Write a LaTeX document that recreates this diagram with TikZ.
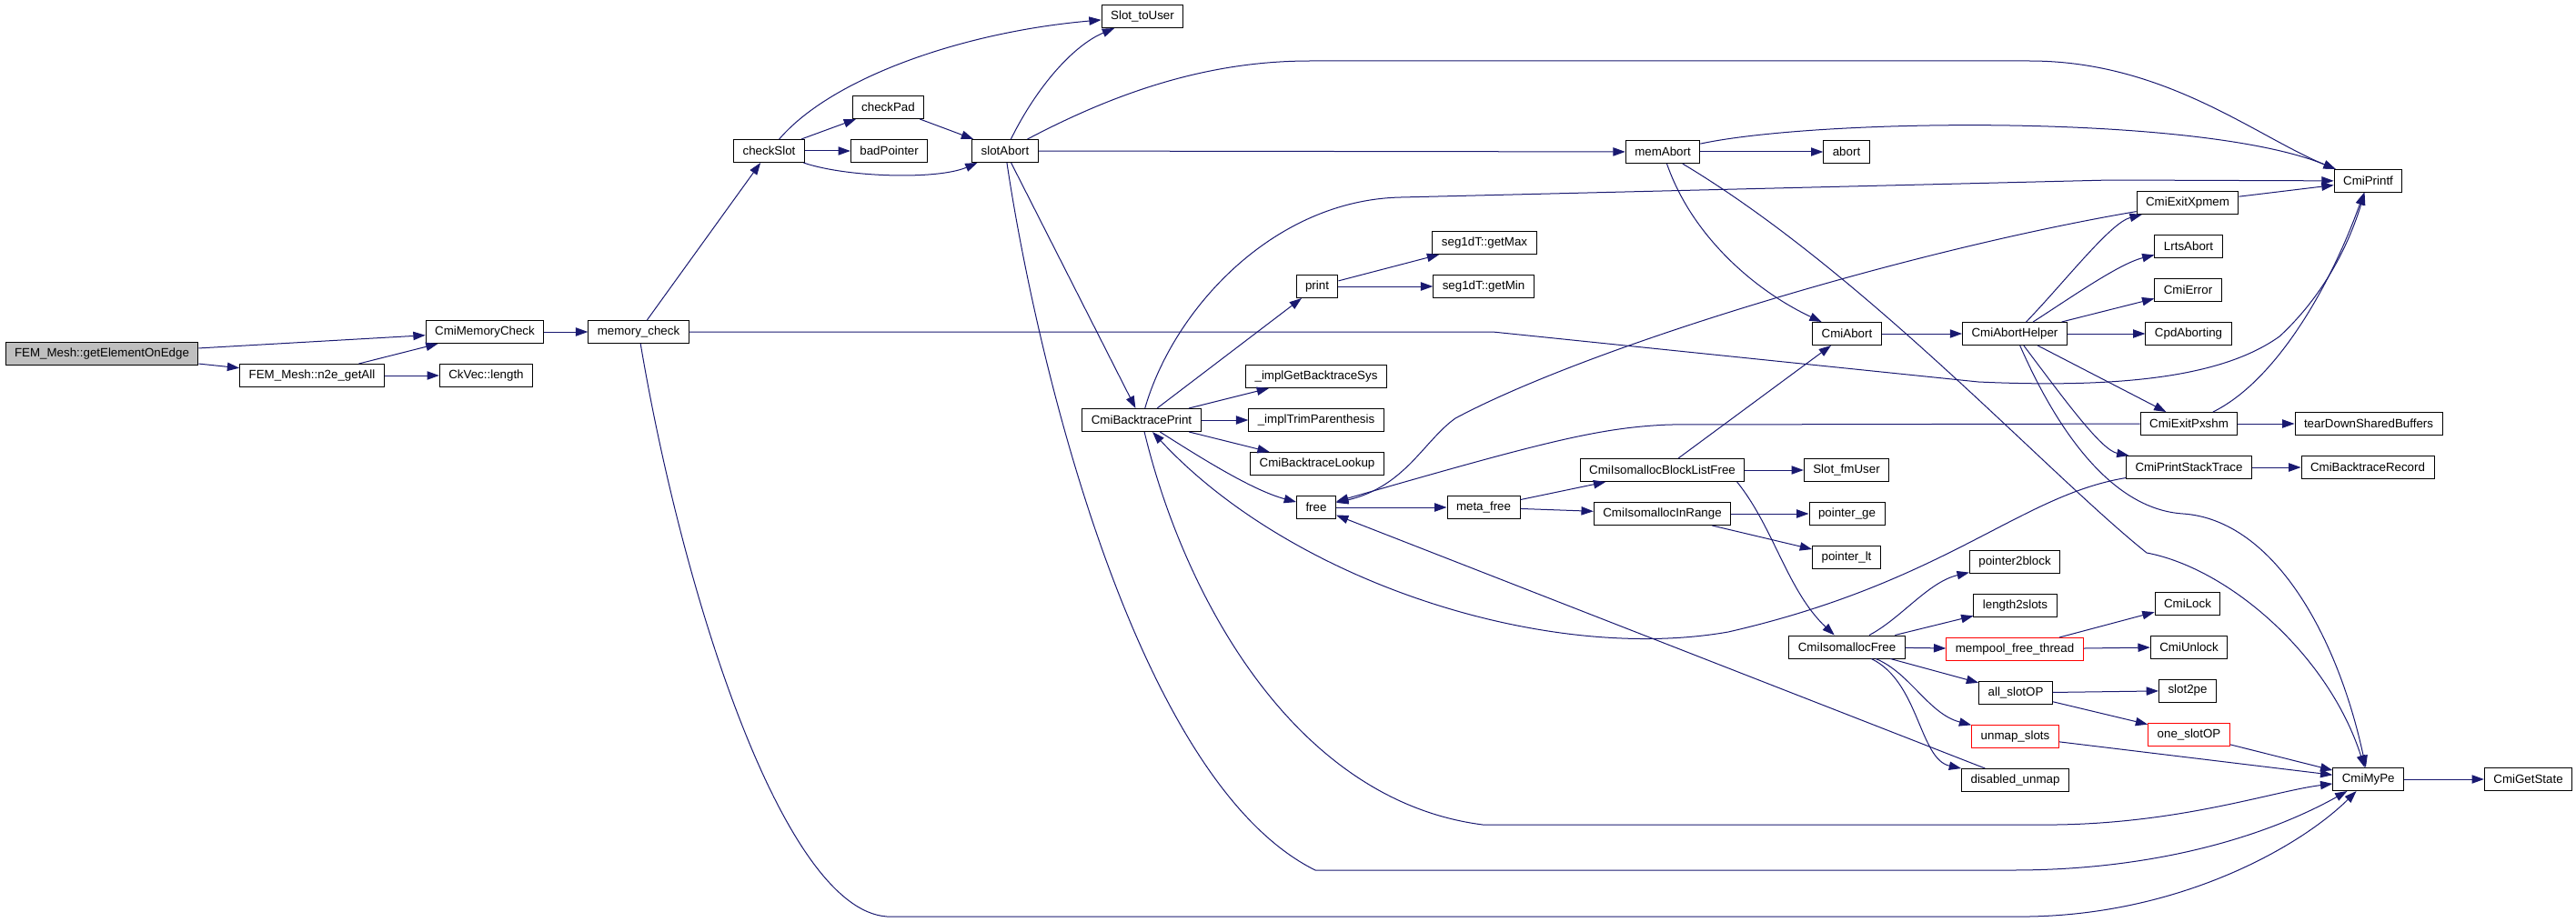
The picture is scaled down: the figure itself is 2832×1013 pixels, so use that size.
\documentclass[tikz,border=0pt]{standalone}
\usepackage{fontspec}
\setmainfont{Liberation Sans}
\usetikzlibrary{arrows.meta}

\definecolor{edgeblue}{RGB}{25,25,112}
\definecolor{rootgrey}{RGB}{191,191,191}

\begin{document}
\begin{tikzpicture}[
            x = 0.75pt, y = -0.75pt, % one unit is one pixel of the graph
            fn/.style = {draw, fill=white, line width=0.75pt,
                         minimum height=18.75pt, inner xsep=7.5pt, inner ysep=0pt,
                         font=\fontsize{10}{12}\selectfont}, % function box
            root/.style = {fn, fill=rootgrey}, % the function itself
            trunc/.style = {fn, draw=red}, % graph cut below this box
            call/.style = {draw=edgeblue, line width=0.75pt,
                           -{Triangle[length=10pt,width=7pt]}} % call edge
        ]
\useasboundingbox (0,0) rectangle (2832,1013);

	% left part
	\node[root] (getEl) at (112,389) {FEM\_Mesh::getElementOnEdge};
	\node[fn] (memChk) at (533,365) {CmiMemoryCheck};
	\node[fn] (n2e) at (343,413) {FEM\_Mesh::n2e\_getAll};
	\node[fn] (ckLen) at (534.5,413) {CkVec::length};
	\node[fn] (memCheck) at (702,365) {memory\_check};
	\node[fn] (chkSlot) at (845.5,166) {checkSlot};
	\node[fn] (chkPad) at (976.5,118) {checkPad};
	\node[fn] (badPtr) at (977.6,166) {badPointer};
	\node[fn] (slotAbort) at (1105,166) {slotAbort};
	\node[fn] (toUser) at (1256,18) {Slot\_toUser};

	% middle part
	\node[fn] (btPrint) at (1255,462) {CmiBacktracePrint};
	\node[fn] (print) at (1448,315) {print};
	\node[fn] (getMax) at (1632,267) {seg1dT::getMax};
	\node[fn] (getMin) at (1631,315) {seg1dT::getMin};
	\node[fn] (btSys) at (1447,414) {\_implGetBacktraceSys};
	\node[fn] (trimPar) at (1447,462) {\_implTrimParenthesis};
	\node[fn] (btLookup) at (1448,510) {CmiBacktraceLookup};
	\node[fn] (free) at (1447,558) {free};
	\node[fn] (metaFree) at (1631,558) {meta\_free};
	\node[fn] (memAbort) at (1828,167) {memAbort};
	\node[fn] (abort) at (2030,167) {abort};
	\node[fn] (cmiAbort) at (2030.5,367) {CmiAbort};
	\node[fn] (blFree) at (1827.5,517) {CmiIsomallocBlockListFree};
	\node[fn] (fmUser) at (2030,517) {Slot\_fmUser};
	\node[fn] (inRange) at (1827.5,565) {CmiIsomallocInRange};
	\node[fn] (ptrGe) at (2030.5,565) {pointer\_ge};
	\node[fn] (ptrLt) at (2030,613) {pointer\_lt};
	\node[fn] (isoFree) at (2030.5,711.5) {CmiIsomallocFree};

	% right part
	\node[fn] (abortHlp) at (2215,367) {CmiAbortHelper};
	\node[fn] (xpmem) at (2405,223) {CmiExitXpmem};
	\node[fn] (lrtsAbort) at (2406,271) {LrtsAbort};
	\node[fn] (cmiError) at (2405.5,319) {CmiError};
	\node[fn] (cpdAbort) at (2406,367) {CpdAborting};
	\node[fn] (pxshm) at (2406.5,466) {CmiExitPxshm};
	\node[fn] (tearDown) at (2604,466) {tearDownSharedBuffers};
	\node[fn] (stackTr) at (2406.5,514) {CmiPrintStackTrace};
	\node[fn] (btRecord) at (2603,514) {CmiBacktraceRecord};
	\node[fn] (printf) at (2603.5,199) {CmiPrintf};
	\node[fn] (ptr2blk) at (2215,618) {pointer2block};
	\node[fn] (len2slots) at (2215.5,666) {length2slots};
	\node[trunc] (mempool) at (2215,714) {mempool\_free\_thread};
	\node[fn] (cmiLock) at (2405,663.5) {CmiLock};
	\node[fn] (cmiUnlock) at (2406.5,711.5) {CmiUnlock};
	\node[fn] (allSlot) at (2216,762) {all\_slotOP};
	\node[fn] (slot2pe) at (2405,759.5) {slot2pe};
	\node[trunc] (unmap) at (2215.5,810) {unmap\_slots};
	\node[trunc] (oneSlot) at (2406.5,807.5) {one\_slotOP};
	\node[fn] (disUnmap) at (2215.5,858) {disabled\_unmap};
	\node[fn] (myPe) at (2603.7,857) {CmiMyPe};
	\node[fn] (getState) at (2779.5,857) {CmiGetState};

	% calls from the left part
	\draw[call] (getEl) -- (memChk);
	\draw[call] (getEl) -- (n2e);
	\draw[call] (n2e) -- (memChk);
	\draw[call] (n2e) -- (ckLen);
	\draw[call] (memChk) -- (memCheck);
	\draw[call] (memCheck) -- (chkSlot);
	\draw[call] (memCheck) -- (1641,365) -- (2175,420) .. controls (2350,428) and (2450,410) .. (2506,370) .. controls (2560,320) and (2585,260) .. (printf);
	\draw[call] (memCheck) .. controls (750,650) and (860,1000) .. (975,1008) -- (2231,1008) .. controls (2400,1005) and (2530,930) .. (myPe);
	\draw[call] (chkSlot) .. controls (915,85) and (1060,35) .. (toUser);
	\draw[call] (chkSlot) -- (chkPad);
	\draw[call] (chkSlot) -- (badPtr);
	\draw[call] (chkSlot) .. controls (930,195) and (1030,198) .. (slotAbort);
	\draw[call] (chkPad) -- (slotAbort);
	\draw[call] (slotAbort) .. controls (1140,95) and (1180,50) .. (toUser);
	\draw[call] (slotAbort) .. controls (1230,100) and (1330,67) .. (1440,67) -- (2231,67) .. controls (2380,67) and (2480,150) .. (printf.160);
	\draw[call] (slotAbort) -- (memAbort);
	\draw[call] (slotAbort) -- (btPrint);
	\draw[call] (slotAbort) .. controls (1140,400) and (1250,860) .. (1446,957) -- (2212,957) .. controls (2380,957) and (2500,915) .. (myPe);

	% calls from the middle part
	\draw[call] (btPrint) .. controls (1290,340) and (1400,220) .. (1540,217) -- (2320,198) -- (printf);
	\draw[call] (btPrint) -- (print);
	\draw[call] (btPrint) -- (btSys);
	\draw[call] (btPrint) -- (trimPar);
	\draw[call] (btPrint) -- (btLookup);
	\draw[call] (btPrint) .. controls (1330,510) and (1380,540) .. (free);
	\draw[call] (btPrint) .. controls (1300,650) and (1420,880) .. (1630,907) -- (2261,907) .. controls (2400,905) and (2500,870) .. (myPe);
	\draw[call] (print) -- (getMax);
	\draw[call] (print) -- (getMin);
	\draw[call] (free) -- (metaFree);
	\draw[call] (metaFree) -- (blFree);
	\draw[call] (metaFree) -- (inRange);
	\draw[call] (inRange) -- (ptrGe);
	\draw[call] (inRange) -- (ptrLt);
	\draw[call] (blFree) -- (fmUser);
	\draw[call] (blFree) -- (cmiAbort);
	\draw[call] (blFree.-9) .. controls (1950,580) and (1965,650) .. (isoFree);
	\draw[call] (memAbort) .. controls (2000,130) and (2420,125) .. (printf.160);
	\draw[call] (memAbort) -- (abort);
	\draw[call] (memAbort) .. controls (1860,260) and (1930,320) .. (cmiAbort);
	\draw[call] (memAbort) .. controls (2050,300) and (2250,520) .. (2360,608) .. controls (2450,625) and (2560,720) .. (myPe);
	\draw[call] (cmiAbort) -- (abortHlp);

	% calls from the right part
	\draw[call] (abortHlp) .. controls (2270,310) and (2320,245) .. (xpmem);
	\draw[call] (abortHlp) .. controls (2280,325) and (2330,290) .. (lrtsAbort);
	\draw[call] (abortHlp) -- (cmiError);
	\draw[call] (abortHlp) -- (cpdAbort);
	\draw[call] (abortHlp) -- (pxshm);
	\draw[call] (abortHlp) .. controls (2270,440) and (2310,495) .. (stackTr);
	\draw[call] (abortHlp) .. controls (2260,470) and (2320,560) .. (2400,565) .. controls (2500,572) and (2570,700) .. (myPe);
	\draw[call] (xpmem) -- (printf);
	\draw[call] (xpmem) .. controls (2100,275) and (1750,380) .. (1600,460) .. controls (1565,485) and (1545,535) .. (free);
	\draw[call] (pxshm) .. controls (2500,420) and (2560,320) .. (printf);
	\draw[call] (pxshm) -- (tearDown);
	\draw[call] (pxshm) -- (1836,467) .. controls (1760,470) and (1700,485) .. (free);
	\draw[call] (stackTr) -- (btRecord);
	\draw[call] (stackTr) .. controls (2220,545) and (2140,640) .. (1900,695) .. controls (1700,730) and (1420,640) .. (btPrint);
	\draw[call] (isoFree) .. controls (2090,680) and (2120,640) .. (ptr2blk);
	\draw[call] (isoFree) -- (len2slots);
	\draw[call] (isoFree) -- (mempool);
	\draw[call] (isoFree) -- (allSlot);
	\draw[call] (isoFree) .. controls (2100,740) and (2120,785) .. (unmap);
	\draw[call] (isoFree) .. controls (2110,750) and (2110,835) .. (disUnmap);
	\draw[call] (mempool) -- (cmiLock);
	\draw[call] (mempool) -- (cmiUnlock);
	\draw[call] (allSlot) -- (slot2pe);
	\draw[call] (allSlot) -- (oneSlot);
	\draw[call] (unmap) -- (myPe);
	\draw[call] (oneSlot) -- (myPe);
	\draw[call] (disUnmap) -- (free);
	\draw[call] (myPe) -- (getState);

\end{tikzpicture}
\end{document}
